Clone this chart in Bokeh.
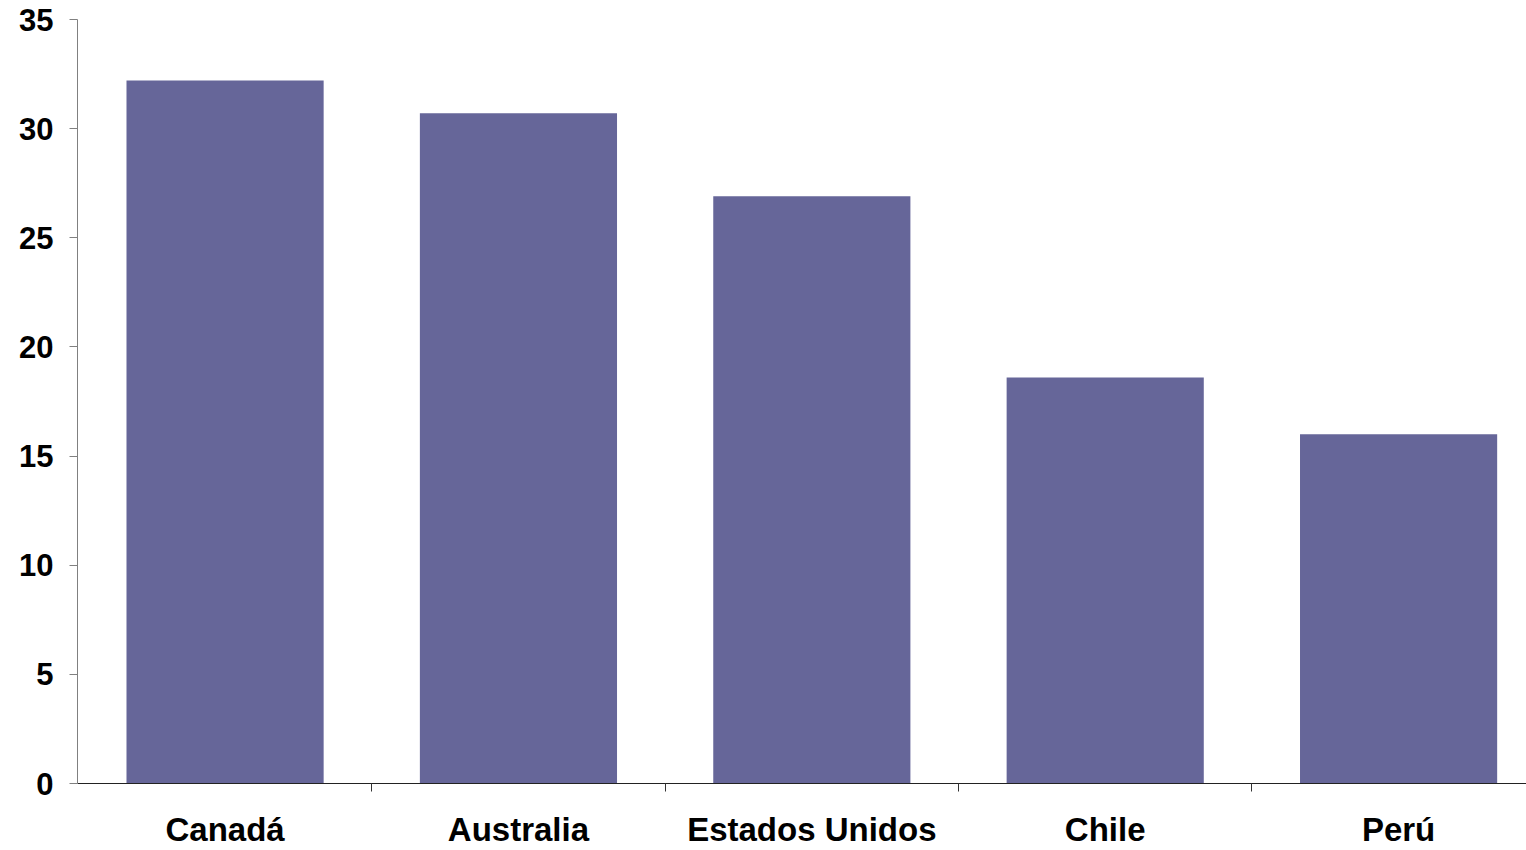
from bokeh.plotting import figure
from bokeh.models import Range1d, FixedTicker
from bokeh.embed import file_html
from bokeh.resources import INLINE

countries = ["Canadá", "Australia", "Estados Unidos", "Chile", "Perú"]
values = [32.2, 30.7, 26.9, 18.6, 16.0]
y_ticks = [0, 5, 10, 15, 20, 25, 30, 35]

xs = [i + 0.5 for i in range(len(countries))]
boundaries = [i for i in range(1, len(countries))]

p = figure(width=1526, height=850, output_backend="svg", toolbar_location=None,
           x_range=Range1d(-0.003, 4.936), y_range=Range1d(0, 35),
           min_border_left=77, min_border_right=0, min_border_top=19, min_border_bottom=0)
p.outline_line_color = None
p.xgrid.visible = False
p.ygrid.visible = False
p.background_fill_color = "white"
p.border_fill_color = "white"

p.vbar(x=xs, top=values, width=0.672, fill_color="#666699", line_color=None)

# x axis
xa = p.xaxis[0]
xa.ticker = FixedTicker(ticks=xs, minor_ticks=boundaries)
xa.major_label_overrides = {x: c for x, c in zip(xs, countries)}
xa.major_tick_out = 0
xa.major_tick_in = 0
xa.minor_tick_out = 8
xa.minor_tick_in = 0
xa.minor_tick_line_color = "#333333"
xa.axis_line_color = "#222222"
xa.axis_line_width = 1
xa.major_label_text_font = "Liberation Sans"
xa.major_label_text_font_style = "bold"
xa.major_label_text_font_size = "33px"
xa.major_label_text_color = "black"
xa.major_label_standoff = 19

# y axis
ya = p.yaxis[0]
ya.ticker = FixedTicker(ticks=y_ticks)
ya.minor_tick_out = 0
ya.minor_tick_in = 0
ya.major_tick_out = 8
ya.major_tick_in = 0
ya.major_tick_line_color = "#808080"
ya.axis_line_color = "#808080"
ya.major_label_text_font = "Liberation Sans"
ya.major_label_text_font_style = "bold"
ya.major_label_text_font_size = "31px"
ya.major_label_text_color = "black"
ya.major_label_standoff = 16

open("out.html", "w").write(file_html(p, INLINE))
